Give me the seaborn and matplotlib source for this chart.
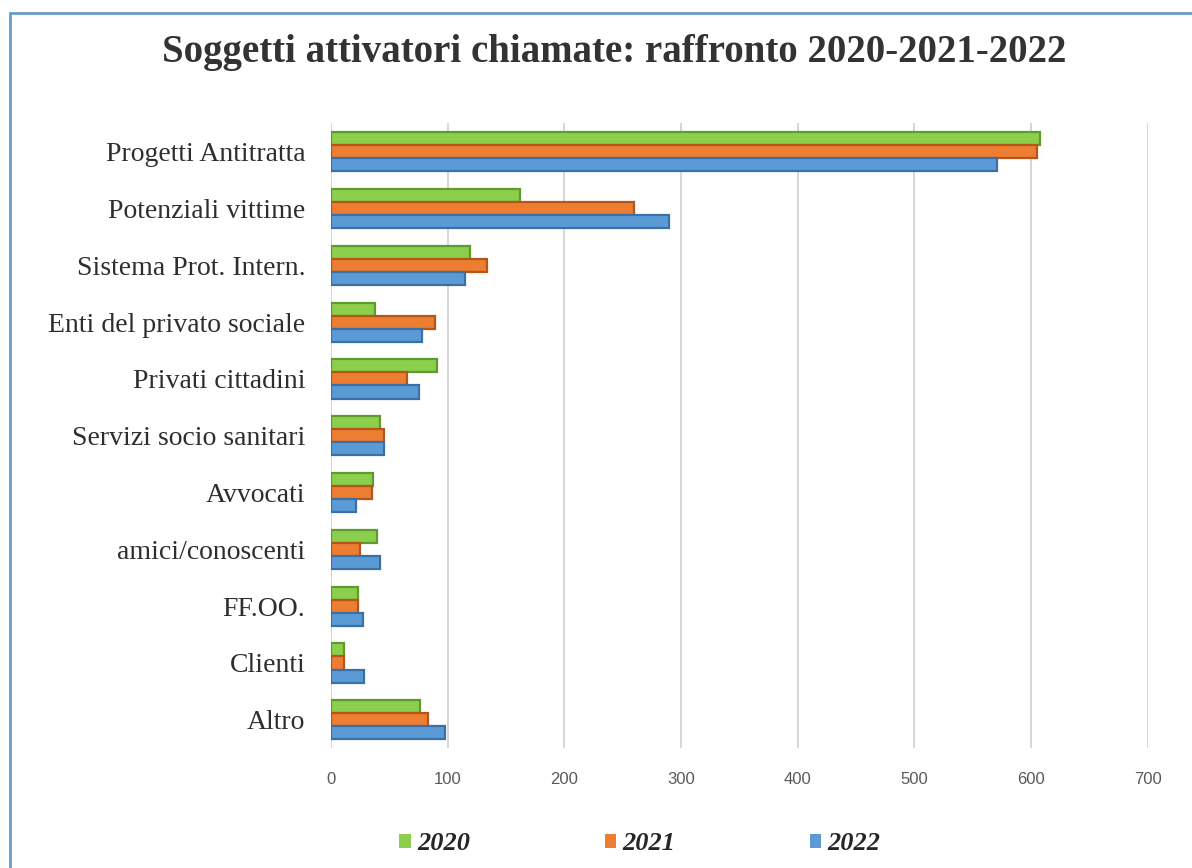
import matplotlib
matplotlib.use("Agg")
import matplotlib.pyplot as plt
from matplotlib.lines import Line2D
from matplotlib.patches import Patch
import seaborn as sns
import pandas as pd

# Calling subjects, top to bottom
categories = [
    "Progetti Antitratta",
    "Potenziali vittime",
    "Sistema Prot. Intern.",
    "Enti del privato sociale",
    "Privati cittadini",
    "Servizi socio sanitari",
    "Avvocati",
    "amici/conoscenti",
    "FF.OO.",
    "Clienti",
    "Altro",
]
years = ["2020", "2021", "2022"]
calls_2020 = [608, 162, 119, 38, 91, 42, 36, 39, 23, 11, 76]
calls_2021 = [605, 260, 134, 89, 65, 45, 35, 25, 23, 11, 83]
calls_2022 = [571, 290, 115, 78, 75, 45, 21, 42, 27, 28, 98]
x_ticks = [0, 100, 200, 300, 400, 500, 600, 700]

palette = {"2020": "#8CCF4D", "2021": "#ED7D31", "2022": "#5B9BD5"}
edge = {"2020": "#5E9A2C", "2021": "#B4561A", "2022": "#3A70A8"}

df = pd.DataFrame({
    "Soggetto": categories * 3,
    "Anno": [y for y in years for _ in categories],
    "Chiamate": calls_2020 + calls_2021 + calls_2022,
})

sns.set_theme(style="white")
plt.rcParams["font.family"] = ["Liberation Serif", "DejaVu Serif"]

fig = plt.figure(figsize=(11.92, 8.68), dpi=100)
ax = fig.add_axes([0.2777, 0.138, 0.685, 0.72])

sns.barplot(data=df, y="Soggetto", x="Chiamate", hue="Anno",
            order=categories, hue_order=years, palette=palette,
            orient="h", width=0.69, saturation=1, ax=ax, legend=False)

# darker rims give the bars a slightly raised look
for cont, yr in zip(ax.containers, years):
    for bar in cont:
        bar.set_edgecolor(edge[yr])
        bar.set_linewidth(1.6)

ax.set_xlim(0, 700)
ax.set_xticks(x_ticks)
ax.set_xticklabels([str(t) for t in x_ticks], fontfamily="Liberation Sans",
                   color="#595959", fontsize=12)
ax.tick_params(axis="x", length=0, pad=17)
ax.tick_params(axis="y", length=0, pad=18.5, labelsize=20, labelcolor="#2E2E2E")
ax.set_xlabel("")
ax.set_ylabel("")
ax.xaxis.grid(True, color="#D0D0D0", linewidth=1.2)
ax.set_axisbelow(True)
for s in ax.spines.values():
    s.set_visible(False)

fig.text(0.515, 0.939, "Soggetti attivatori chiamate: raffronto 2020-2021-2022",
         ha="center", va="center", fontsize=28, fontweight="bold", color="#333333")

handles = [Patch(facecolor=palette[y], edgecolor="none") for y in years]
fig.legend(handles, years, loc="center", bbox_to_anchor=(0.537, 0.028), ncol=3,
           frameon=False, columnspacing=5.1, handlelength=0.42, handleheight=0.42,
           handletextpad=0.25,
           prop={"family": "Liberation Serif", "weight": "bold", "style": "italic",
                 "size": 19})

# thin blue frame on the top and left edges of the panel
fig.add_artist(Line2D([10 / 1192, 10 / 1192], [0, 1 - 13 / 868],
                      transform=fig.transFigure, color="#6A9CC8", linewidth=2))
fig.add_artist(Line2D([10 / 1192, 1], [1 - 13 / 868, 1 - 13 / 868],
                      transform=fig.transFigure, color="#6A9CC8", linewidth=2))

fig.savefig("out.png", dpi=100, facecolor="white")
